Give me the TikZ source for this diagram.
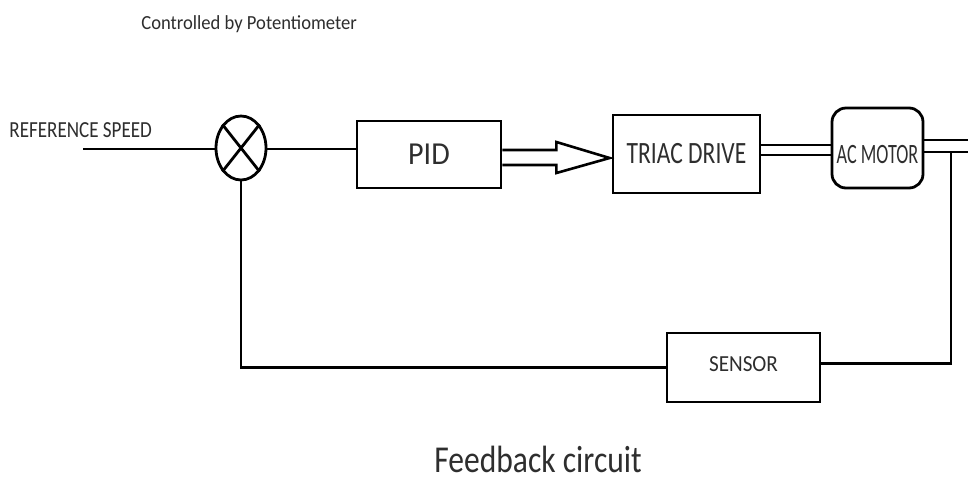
\documentclass[tikz,border=0pt]{standalone}
\usepackage{fontspec}
\usepackage{graphicx}
\setmainfont{Carlito}
\usetikzlibrary{shapes.geometric,calc}
\definecolor{txt}{HTML}{2E2E2E}
\begin{document}
\begin{tikzpicture}[x=1pt,y=-1pt,line width=2.8pt,
  box/.style={draw=black,rectangle,inner sep=0pt,text=txt},
  lbl/.style={anchor=base west,inner sep=0pt,text=txt},
  wire/.style={draw=black,line width=2.8pt}]
\useasboundingbox[fill=white] (0,0) rectangle (968,480);

% titles
\node[lbl,font=\fontsize{20}{22}\selectfont] (ctl) at (140,29) {\scalebox{0.93}[1]{Controlled by Potentiometer}};
\node[lbl,font=\fontsize{23}{26}\selectfont] (ref) at (8,137) {\scalebox{0.83}[1]{REFERENCE SPEED}};
\node[lbl,font=\fontsize{38}{40}\selectfont] (cap) at (433,472) {\scalebox{0.83}[1]{Feedback circuit}};

% blocks
\node[draw=black,ellipse,minimum width=50pt,minimum height=64pt,inner sep=0pt] (sum) at (241,148) {};
\node[box,minimum width=144pt,minimum height=67pt,font=\fontsize{32}{34}\selectfont] (pid) at (429,154.5) {\scalebox{0.94}[1]{PID}};
\node[box,minimum width=147pt,minimum height=78pt,font=\fontsize{31}{33}\selectfont] (triac) at (686.5,154) {\scalebox{0.76}[1]{TRIAC DRIVE}};
\node[box,rounded corners=14pt,minimum width=91pt,minimum height=80pt,font=\fontsize{28}{30}\selectfont] (motor) at (877.5,148) {\raisebox{-6pt}[\height][0pt]{\scalebox{0.65}[1]{AC MOTOR}}};
\node[box,minimum width=153pt,minimum height=69pt,font=\fontsize{23}{25}\selectfont] (sensor) at (743.5,367.5) {\raisebox{3pt}[\height][0pt]{\scalebox{0.92}[1]{SENSOR}}};

% cross in summing junction
\draw (sum.north west) -- (sum.south east);
\draw (sum.north east) -- (sum.south west);

% input
\coordinate (in) at (83,149);
\draw[wire] (in) -- (in -| sum.west);
\draw[wire] (sum.east |- in) -- (in -| pid.west);

% hollow arrow PID -> TRIAC
\draw[line width=2.6pt,line join=miter]
  ($(pid.east)+(0,-4.5)$) -- ++(54,0) -- ++(0,-8)
  -- ($(triac.west)+(-2,4)$)
  -- ($(pid.east)+(54,18.5)$) -- ++(0,-8) -- ($(pid.east)+(0,10.5)$);

% double line TRIAC -> MOTOR
\draw[wire] ($(triac.east)+(0,-9)$) -- ($(triac.east -| motor.west)+(0,-9)$);
\draw[wire] ($(triac.east)+(0,1)$) -- ($(triac.east -| motor.west)+(0,1)$);

% double line out of MOTOR
\coordinate (out) at (972,146);
\draw[wire] ($(motor.east)+(0,-8)$) -- ($(out)+(0,-6)$);
\draw[wire] ($(motor.east)+(0,4)$) -- ($(out)+(0,6)$);

% feedback path
\coordinate (fbtop) at (951,152);
\draw[wire] (fbtop) |- ($(sensor.east)+(0,-4)$);
\draw[wire] (sum.south) |- (sensor.west);
\end{tikzpicture}
\end{document}
